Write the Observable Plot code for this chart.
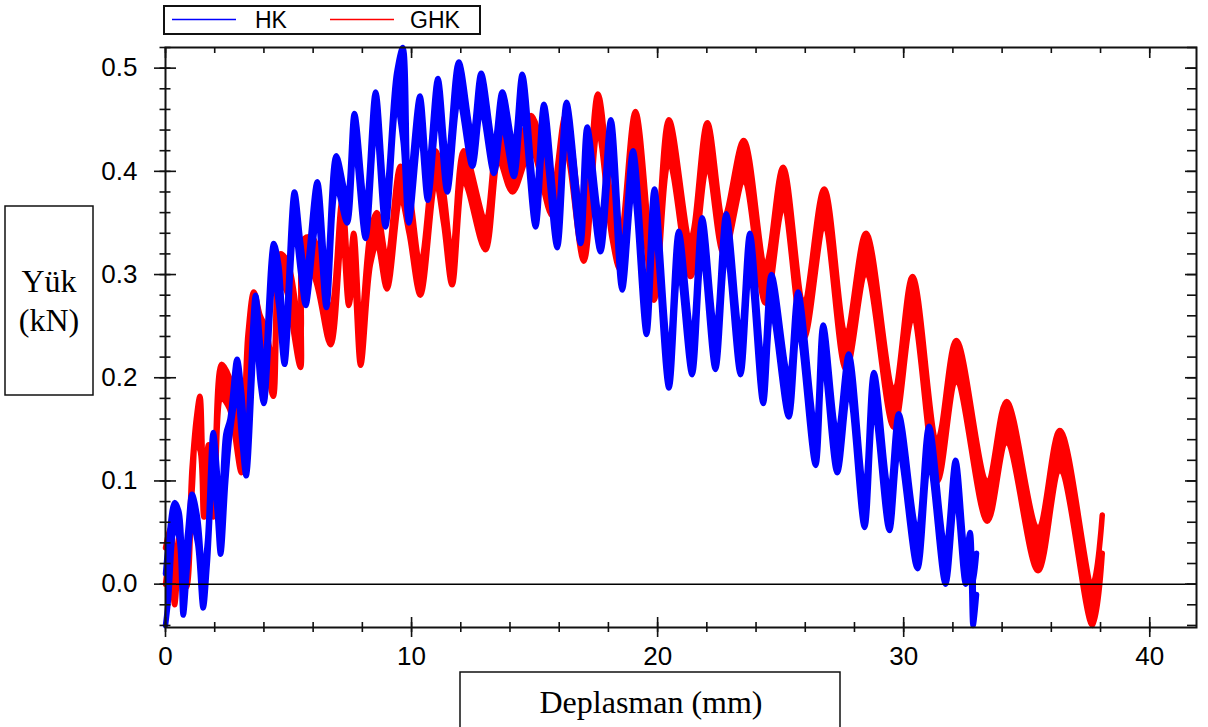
<!DOCTYPE html>
<html>
<head>
<meta charset="utf-8">
<script src="https://cdn.jsdelivr.net/npm/d3@7"></script>
<script src="https://cdn.jsdelivr.net/npm/@observablehq/plot@0.6"></script>
<style>
  html, body { margin: 0; padding: 0; background: #fff; }
</style>
</head>
<body>
<div id="chart"></div>
<script>
// ---- Data ----
// Each row: [Deplasman (mm), lower edge of trace band (kN), upper edge of trace band (kN)]
const hkSamples = [
  [0.00,-0.040,0.010],[0.12,-0.015,0.040],[0.37,0.055,0.079],[0.55,0.045,0.070],
  [0.72,-0.030,0.010],[0.90,0.020,0.050],[1.08,0.060,0.087],[1.30,0.040,0.065],
  [1.53,-0.023,0.010],[1.70,0.020,0.040],[1.94,0.110,0.147],[2.10,0.070,0.110],
  [2.24,0.029,0.060],[2.45,0.100,0.145],[2.62,0.145,0.160],[2.91,0.185,0.218],
  [3.10,0.140,0.185],[3.28,0.105,0.135],[3.66,0.245,0.280],[3.85,0.195,0.235],
  [4.00,0.175,0.200],[4.40,0.300,0.330],[4.60,0.270,0.310],[4.84,0.213,0.240],
  [5.24,0.345,0.380],[5.50,0.300,0.330],[5.70,0.270,0.300],[6.17,0.355,0.390],
  [6.54,0.268,0.300],[6.94,0.385,0.415],[7.38,0.350,0.375],[7.68,0.425,0.456],
  [8.13,0.335,0.365],[8.54,0.445,0.477],[8.94,0.346,0.375],[9.39,0.465,0.495],
  [9.65,0.430,0.520],[9.89,0.350,0.385],[10.34,0.440,0.473],[10.66,0.372,0.400],
  [11.07,0.455,0.490],[11.45,0.380,0.410],[11.92,0.470,0.506],[12.47,0.405,0.435],
  [12.83,0.460,0.495],[13.35,0.398,0.425],[13.69,0.445,0.477],[14.16,0.395,0.425],
  [14.50,0.460,0.494],[15.04,0.346,0.375],[15.38,0.430,0.465],[15.92,0.326,0.355],
  [16.30,0.435,0.467],[16.87,0.330,0.360],[17.14,0.410,0.443],[17.68,0.322,0.352],
  [18.10,0.415,0.450],[18.56,0.285,0.320],[19.00,0.385,0.420],[19.55,0.242,0.280],
  [19.87,0.345,0.383],[20.46,0.190,0.225],[20.86,0.305,0.342],[21.40,0.203,0.240],
  [21.81,0.320,0.355],[22.35,0.208,0.245],[22.79,0.322,0.359],[23.37,0.203,0.240],
  [23.75,0.305,0.340],[24.29,0.175,0.210],[24.63,0.265,0.300],[25.33,0.162,0.200],
  [25.71,0.248,0.283],[26.42,0.115,0.150],[26.73,0.215,0.251],[27.30,0.108,0.145],
  [27.77,0.188,0.223],[28.41,0.055,0.090],[28.79,0.170,0.205],[29.42,0.052,0.088],
  [29.80,0.130,0.165],[30.56,0.015,0.050],[31.03,0.118,0.153],[31.70,0.000,0.035],
  [32.11,0.085,0.120],[32.52,0.000,0.030],[32.70,0.020,0.050],[32.82,-0.040,0.000],
  [32.96,-0.010,0.030]
];
const ghkSamples = [
  [0.00,0.000,0.035],[0.20,0.030,0.055],[0.37,-0.020,0.010],[0.55,0.020,0.045],
  [0.70,0.005,0.030],[0.85,-0.003,0.020],[1.08,0.090,0.113],[1.25,0.135,0.160],
  [1.40,0.130,0.182],[1.56,0.065,0.100],[1.75,0.100,0.135],[1.95,0.065,0.100],
  [2.28,0.180,0.213],[2.60,0.170,0.200],[3.09,0.108,0.140],[3.35,0.200,0.242],
  [3.59,0.250,0.283],[3.85,0.230,0.260],[4.05,0.220,0.250],[4.38,0.182,0.215],
  [4.67,0.290,0.320],[4.90,0.285,0.315],[5.10,0.260,0.300],[5.49,0.210,0.245],
  [5.65,0.305,0.335],[6.00,0.300,0.335],[6.71,0.232,0.265],[7.18,0.340,0.372],
  [7.45,0.270,0.300],[7.65,0.300,0.340],[7.93,0.212,0.250],[8.33,0.310,0.342],
  [8.60,0.330,0.360],[9.00,0.286,0.315],[9.55,0.375,0.405],[9.90,0.340,0.380],
  [10.36,0.280,0.310],[10.98,0.390,0.420],[11.30,0.350,0.380],[11.65,0.290,0.320],
  [12.13,0.390,0.420],[13.00,0.324,0.355],[13.55,0.410,0.440],[14.10,0.380,0.405],
  [14.86,0.420,0.454],[15.72,0.357,0.385],[16.26,0.420,0.454],[17.00,0.313,0.345],
  [17.57,0.440,0.475],[18.15,0.335,0.365],[18.47,0.305,0.335],[19.10,0.420,0.458],
  [19.85,0.275,0.310],[20.46,0.410,0.450],[21.34,0.298,0.335],[22.02,0.405,0.447],
  [22.69,0.320,0.355],[23.50,0.390,0.430],[24.39,0.272,0.310],[25.10,0.365,0.404],
  [25.94,0.238,0.275],[26.77,0.345,0.383],[27.66,0.208,0.245],[28.47,0.300,0.340],
  [29.60,0.152,0.190],[30.36,0.258,0.298],[31.37,0.100,0.140],[32.14,0.196,0.236],
  [33.40,0.061,0.100],[34.18,0.137,0.177],[35.46,0.013,0.055],[36.35,0.110,0.149],
  [37.67,-0.040,0.000],[38.07,0.030,0.067]
];
const seriesNames = ["HK", "GHK"];
const seriesColors = ["#0000ff", "#ff0000"];
const xMajorTicks = [0, 10, 20, 30, 40];
const xMinorTicks = d3.range(0, 42, 2);
const yMajorTicks = [0, 0.1, 0.2, 0.3, 0.4, 0.5];
const yMinorTicks = d3.range(-4, 53, 2).map(d => d / 100);
const xTitle = "Deplasman (mm)";
const yTitleLines = ["Yük", "(kN)"];

// ---- Build ----
const toRows = s => s.map(([x, lo, hi]) => ({x, lo, hi}));
const hk = toRows(hkSamples);
const ghk = toRows(ghkSamples);

const W = 1208, H = 727;
const ink = "#111";
const tk = {stroke: ink, strokeWidth: 1.6, tickFormat: () => "", label: null};

function band(rows, color) {
  const c = "catmull-rom";
  return [
    Plot.areaY(rows, {x: "x", y1: "lo", y2: "hi", fill: color, curve: c}),
    Plot.line(rows, {x: "x", y: "lo", stroke: color, strokeWidth: 5.5, curve: c, strokeLinejoin: "round"}),
    Plot.line(rows, {x: "x", y: "hi", stroke: color, strokeWidth: 5.5, curve: c, strokeLinejoin: "round"})
  ];
}

const svg = Plot.plot({
  width: W,
  height: H,
  marginLeft: 165,
  marginRight: 12,
  marginTop: 47,
  marginBottom: 100,
  x: {domain: [0, 41.9], axis: null},
  y: {domain: [-0.042, 0.52], axis: null},
  style: {background: "#fff", color: "#000", fontFamily: "'Liberation Sans', Arial, sans-serif", fontSize: "26px"},
  marks: [
    ...band(ghk, seriesColors[1]),
    ...band(hk, seriesColors[0]),
    Plot.ruleY([0], {stroke: "#000", strokeWidth: 1.5}),
    // left axis: crossing ticks + labels
    Plot.axisY(yMajorTicks, {anchor: "left", tickSize: 22, dx: 11, ...tk}),
    Plot.axisY(yMinorTicks, {anchor: "left", tickSize: 11, dx: 5.5, ...tk}),
    Plot.axisY(yMajorTicks, {anchor: "left", tickSize: 0, tickPadding: 28, tickFormat: d3.format(".1f"), label: null, fontSize: 26}),
    // right axis: inward ticks
    Plot.axisY(yMajorTicks, {anchor: "right", tickSize: 12, dx: -12, ...tk}),
    Plot.axisY(yMinorTicks, {anchor: "right", tickSize: 10, dx: -10, ...tk}),
    // bottom axis: crossing ticks + labels
    Plot.axisX(xMajorTicks, {anchor: "bottom", tickSize: 20, dy: -10, ...tk}),
    Plot.axisX(xMinorTicks, {anchor: "bottom", tickSize: 10, dy: -5, ...tk}),
    Plot.axisX(xMajorTicks, {anchor: "bottom", tickSize: 0, tickPadding: 19, tickFormat: d3.format("d"), label: null, fontSize: 26}),
    // top axis: inward ticks
    Plot.axisX(xMajorTicks, {anchor: "top", tickSize: 10, dy: 10, ...tk}),
    Plot.axisX(xMinorTicks, {anchor: "top", tickSize: 5, dy: 5, ...tk}),
    Plot.frame({stroke: ink, strokeWidth: 2})
  ]
});

// ---- Legend and title boxes ----
const s = d3.select(svg);
const lg = s.append("g").attr("class", "legend");
lg.append("rect").attr("x", 164).attr("y", 6).attr("width", 316).attr("height", 28)
  .attr("fill", "#fff").attr("stroke", ink).attr("stroke-width", 2);
const legendItems = [
  {name: seriesNames[0], color: seriesColors[0], x0: 172, x1: 236, tx: 255},
  {name: seriesNames[1], color: seriesColors[1], x0: 330, x1: 394, tx: 410}
];
legendItems.forEach(d => {
  lg.append("line").attr("x1", d.x0).attr("x2", d.x1).attr("y1", 19.5).attr("y2", 19.5)
    .attr("stroke", d.color).attr("stroke-width", 1.3);
  lg.append("text").attr("x", d.tx).attr("y", 27.5).attr("text-anchor", "start").text(d.name)
    .attr("font-family", "'Liberation Sans', Arial, sans-serif").attr("font-size", 23).attr("fill", "#000");
});

const serif = "'Liberation Serif', 'Times New Roman', serif";
const yl = s.append("g").attr("class", "y-title");
yl.append("rect").attr("x", 5).attr("y", 206).attr("width", 88).attr("height", 189)
  .attr("fill", "#fff").attr("stroke", ink).attr("stroke-width", 1.5);
yTitleLines.forEach((t, i) => {
  yl.append("text").attr("x", 49).attr("y", 292 + i * 39).attr("text-anchor", "middle")
    .attr("font-family", serif).attr("font-size", 32).attr("fill", "#000").text(t);
});

const xl = s.append("g").attr("class", "x-title");
xl.append("rect").attr("x", 460).attr("y", 672).attr("width", 380).attr("height", 70)
  .attr("fill", "#fff").attr("stroke", ink).attr("stroke-width", 1.5);
xl.append("text").attr("x", 651).attr("y", 713).attr("text-anchor", "middle")
  .attr("font-family", serif).attr("font-size", 32).attr("fill", "#000").text(xTitle);

document.getElementById("chart").appendChild(svg);
</script>
</body>
</html>
